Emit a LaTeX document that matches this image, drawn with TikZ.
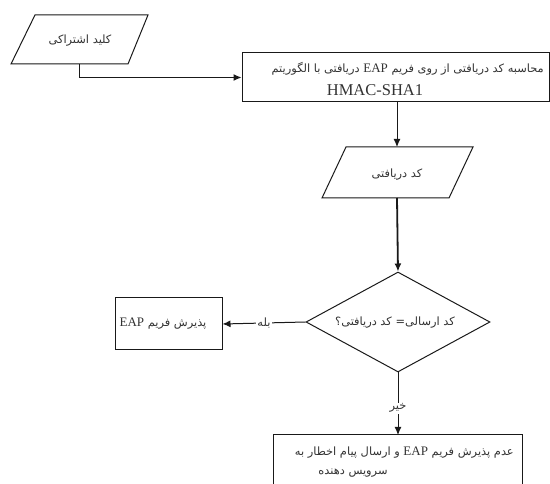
\documentclass[tikz,border=0pt]{standalone}
\usepackage{fontspec}
\setmainfont{Liberation Serif}
\newfontfamily\fa[Script=Arabic]{DejaVu Sans}
\TeXXeTstate=1
\usetikzlibrary{arrows.meta,shapes.geometric}
\tikzset{
  ln/.style={draw=black!90, line width=1pt},
  arr/.style={ln, -{Latex[length=8pt,width=7pt]}},
  boxnode/.style={draw=black!90, line width=1pt, rectangle, inner sep=0pt},
  dia/.style={draw=black!90, line width=1pt, diamond, inner sep=0pt},
  txt/.style={text=black!80, inner sep=0pt, font=\fa\fontsize{11.4}{13}\selectfont},
  lab/.style={txt, fill=white, inner sep=1pt},
}
\newcommand{\en}[1]{{\rmfamily\beginL #1\endL}}
\begin{document}
\begin{tikzpicture}[x=1pt,y=-1pt]
\useasboundingbox (0,0) rectangle (550,484);
% parallelogram 1
\draw[ln] (35,15) -- (148,15) -- (128,64) -- (11,64) -- cycle;
\coordinate (p1b) at (79,64);
\node[txt] (k1) at (80,41) {\beginR کلید اشتراکی\endR};
% box 1
\node[boxnode, minimum width=307pt, minimum height=49pt] (b1) at (395.5,77.5) {};
\node[txt, anchor=east] (b1t1) at (544,69) {\beginR محاسبه کد دریافتی از روی فریم \en{\fontsize{13}{15}\selectfont EAP} دریافتی با الگوریتم\endR};
\node[txt, font=\rmfamily\fontsize{16.5}{18}\selectfont] (b1t2) at (375,90) {HMAC-SHA1};
% parallelogram 2
\draw[ln] (346,147) -- (473,147) -- (449,198) -- (322,198) -- cycle;
\coordinate (p2t) at (397,147);
\coordinate (p2b) at (397,198);
\node[txt] (k2) at (397,175) {\beginR کد دریافتی\endR};
% diamond
\node[dia, minimum width=184pt, minimum height=100pt] (d) at (398,322) {};
\node[txt] (dt) at (395,323) {\beginR کد ارسالی= کد دریافتی؟\endR};
% left box
\node[boxnode, minimum width=107pt, minimum height=52pt] (bl) at (168.5,324) {};
\node[txt] (blt) at (163,324) {\beginR پذیرش فریم \en{\fontsize{13}{15}\selectfont EAP}\endR};
% bottom box
\draw[ln] (273,500) -- (273,435) -- (522,435) -- (522,500);
\coordinate (bbt) at (398,435);
\node[txt, anchor=east] (bbt1) at (514,453) {\beginR عدم پذیرش فریم \en{\fontsize{13}{15}\selectfont EAP} و ارسال پیام  اخطار به\endR};
\node[txt] (bbt2) at (353,473) {\beginR سرویس دهنده\endR};
% connectors
\draw[arr] (p1b) |- (b1.west);
\draw[arr] (b1.south -| p2t) -- (p2t);
\draw[arr, line width=1.8pt] (p2b) -- (d.north);
\draw[arr] (d.west) -- node[lab] {\beginR بله\endR} (bl.east);
\draw[arr] (d.south) -- node[lab, pos=0.57] {\beginR خیر\endR} (bbt);
\end{tikzpicture}
\end{document}
